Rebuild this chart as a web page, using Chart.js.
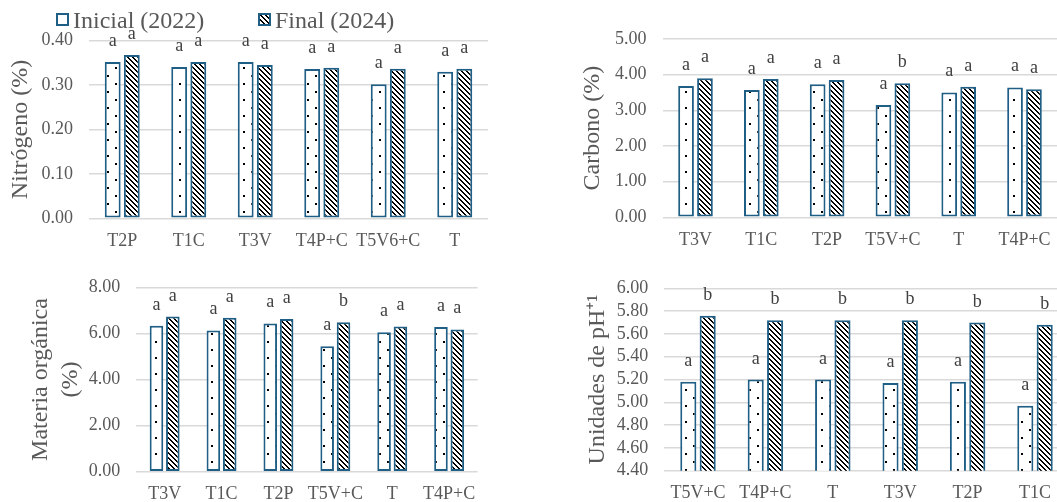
<!DOCTYPE html>
<html><head><meta charset="utf-8">
<script src="https://cdn.jsdelivr.net/npm/chart.js@4.4.1/dist/chart.umd.min.js"></script>
<style>
html,body{margin:0;padding:0;background:#fff;overflow:hidden;width:1057px;height:502px;position:relative;}
canvas{position:absolute;display:block;}
</style></head><body>
<canvas id="c1"></canvas><canvas id="c2"></canvas><canvas id="c3"></canvas><canvas id="c4"></canvas>
<script>
// ---------- DATA ----------
const seriesNames = ['Inicial (2022)', 'Final (2024)'];

const catN = ['T2P', 'T1C', 'T3V', 'T4P+C', 'T5V6+C', 'T'];
const nIni = [0.352, 0.341, 0.352, 0.336, 0.302, 0.330];
const nFin = [0.368, 0.352, 0.345, 0.339, 0.337, 0.337];
const nLetIni = ['a', 'a', 'a', 'a', 'a', 'a'];
const nLetFin = ['a', 'a', 'a', 'a', 'a', 'a'];

const catC = ['T3V', 'T1C', 'T2P', 'T5V+C', 'T', 'T4P+C'];
const cIni = [3.68, 3.57, 3.73, 3.15, 3.50, 3.64];
const cFin = [3.90, 3.88, 3.85, 3.76, 3.66, 3.59];
const cLetIni = ['a', 'a', 'a', 'a', 'a', 'a'];
const cLetFin = ['a', 'a', 'a', 'b', 'a', 'a'];

const catMO = ['T3V', 'T1C', 'T2P', 'T5V+C', 'T', 'T4P+C'];
const moIni = [6.33, 6.13, 6.43, 5.44, 6.05, 6.28];
const moFin = [6.73, 6.68, 6.63, 6.48, 6.30, 6.17];
const moLetIni = ['a', 'a', 'a', 'a', 'a', 'a'];
const moLetFin = ['a', 'a', 'a', 'b', 'a', 'a'];

const catPH = ['T5V+C', 'T4P+C', 'T', 'T3V', 'T2P', 'T1C'];
const phIni = [5.18, 5.20, 5.20, 5.17, 5.18, 4.97];
const phFin = [5.76, 5.72, 5.72, 5.72, 5.70, 5.68];
const phLetIni = ['a', 'a', 'a', 'a', 'a', 'a'];
const phLetFin = ['b', 'b', 'b', 'b', 'b', 'b'];

const axisN = {min: 0, max: 0.40, step: 0.10, title: 'Nitrógeno (%)'};
const axisC = {min: 0, max: 5.00, step: 1.00, title: 'Carbono (%)'};
const axisMO = {min: 0, max: 8.00, step: 2.00, title: ['Materia orgánica', '(%)']};
const axisPH = {min: 4.40, max: 6.00, step: 0.20, title: 'Unidades de pH\u207A\u00B9'};

// ---------- STYLE ----------
const FONT = '"Liberation Serif", "Times New Roman", serif';
const TEXT = '#595959';
const BORDER = '#1F5F85';
const GRID = '#D9D9D9';

function dotPattern() {
  const c = document.createElement('canvas'); c.width = 16; c.height = 16;
  const x = c.getContext('2d');
  x.fillStyle = '#fff'; x.fillRect(0, 0, 16, 16);
  x.fillStyle = '#000';
  x.fillRect(3, 3, 2, 2); x.fillRect(11, 11, 2, 2);
  return x.createPattern(c, 'repeat');
}
function hatchPattern() {
  const s = 5;
  const c = document.createElement('canvas'); c.width = s; c.height = s;
  const x = c.getContext('2d');
  x.fillStyle = '#fff'; x.fillRect(0, 0, s, s);
  x.fillStyle = '#000';
  for (let r = 0; r < s; r++) {
    x.fillRect(r % s, r, 1, 1);
    x.fillRect((r + 1) % s, r, 1, 1);
  }
  return x.createPattern(c, 'repeat');
}
const PAT_INI = dotPattern();
const PAT_FIN = hatchPattern();

const letterPlugin = {
  id: 'letters',
  afterDatasetsDraw(chart) {
    const ctx = chart.ctx;
    ctx.save();
    ctx.font = '18px ' + FONT;
    ctx.fillStyle = '#404040';
    ctx.textAlign = 'center';
    ctx.textBaseline = 'alphabetic';
    chart.data.datasets.forEach((ds, i) => {
      chart.getDatasetMeta(i).data.forEach((el, j) => {
        ctx.fillText(ds.letters[j], el.x, el.y - 16);
      });
    });
    ctx.restore();
  }
};

const legendPlugin = {
  id: 'customLegend',
  afterDraw(chart) {
    const ctx = chart.ctx;
    ctx.save();
    const items = [{x: 56, hatch: false, name: seriesNames[0]}, {x: 258, hatch: true, name: seriesNames[1]}];
    items.forEach(it => {
      ctx.fillStyle = it.hatch ? PAT_FIN : '#fff';
      ctx.fillRect(it.x, 13, 13, 13);
      ctx.strokeStyle = BORDER; ctx.lineWidth = 2;
      ctx.strokeRect(it.x + 1, 14, 11, 11);
      ctx.fillStyle = TEXT;
      ctx.font = '24px ' + FONT;
      ctx.textBaseline = 'alphabetic';
      ctx.textAlign = 'left';
      ctx.fillText(it.name, it.x + 17, 27.5);
    });
    ctx.restore();
  }
};

function makePanel(id, box, area, titleX, titleLH, cats, ini, fin, letIni, letFin, ax, extraPlugins) {
  const cv = document.getElementById(id);
  cv.width = box.w; cv.height = box.h;
  cv.style.left = box.l + 'px'; cv.style.top = box.t + 'px';
  cv.style.width = box.w + 'px'; cv.style.height = box.h + 'px';
  const titleSize = 24;
  const titlePad = 4;
  const padLeft = titleX - box.l - titleSize * titleLH / 2 - titlePad;
  const yW = area.l - box.l - padLeft;
  const padRight = box.l + box.w - area.r;
  const padTop = area.t - box.t;
  const xH = box.t + box.h - area.b;
  return new Chart(cv, {
    type: 'bar',
    data: {
      labels: cats,
      datasets: [
        {label: seriesNames[0], data: ini, letters: letIni, backgroundColor: PAT_INI, borderColor: BORDER, borderWidth: 2, borderSkipped: false},
        {label: seriesNames[1], data: fin, letters: letFin, backgroundColor: PAT_FIN, borderColor: BORDER, borderWidth: 2, borderSkipped: false}
      ]
    },
    options: {
      responsive: false,
      animation: false,
      devicePixelRatio: 1,
      layout: {padding: {left: padLeft, right: padRight, top: padTop, bottom: 0}},
      datasets: {bar: {categoryPercentage: 0.575, barPercentage: 0.83}},
      plugins: {legend: {display: false}, tooltip: {enabled: false}},
      scales: {
        x: {
          grid: {display: false, drawTicks: false},
          border: {display: false},
          ticks: {color: TEXT, font: {family: FONT, size: 18}, padding: 12, maxRotation: 0, autoSkip: false},
          afterFit(s) { s.height = xH; }
        },
        y: {
          min: ax.min, max: ax.max,
          grid: {color: GRID, lineWidth: 1.5, drawTicks: false},
          border: {display: false},
          ticks: {stepSize: ax.step, autoSkip: false, color: TEXT, font: {family: FONT, size: 18}, padding: 16,
                  callback: v => Number(v).toFixed(2)},
          title: {display: true, text: ax.title, color: TEXT, padding: {top: titlePad, bottom: titlePad},
                  font: {family: FONT, size: titleSize, lineHeight: titleLH}},
          afterFit(s) { s.width = yW; }
        }
      }
    },
    plugins: [letterPlugin].concat(extraPlugins || [])
  });
}

makePanel('c1', {l: 0, t: 0, w: 530, h: 250}, {l: 89, r: 488, t: 40.7, b: 218.3}, 20.5, 1.2,
  catN, nIni, nFin, nLetIni, nLetFin, axisN, [legendPlugin]);
makePanel('c2', {l: 530, t: 0, w: 540, h: 250}, {l: 662.6, r: 1057.4, t: 39, b: 217.3}, 593, 1.2,
  catC, cIni, cFin, cLetIni, cLetFin, axisC);
makePanel('c3', {l: 0, t: 250, w: 530, h: 252}, {l: 136.2, r: 477.6, t: 287.3, b: 471.7}, 41, 1.25,
  catMO, moIni, moFin, moLetIni, moLetFin, axisMO);
makePanel('c4', {l: 530, t: 250, w: 560, h: 252}, {l: 664.3, r: 1068.7, t: 288.3, b: 470.7}, 598, 1.2,
  catPH, phIni, phFin, phLetIni, phLetFin, axisPH);
</script>
</body></html>
